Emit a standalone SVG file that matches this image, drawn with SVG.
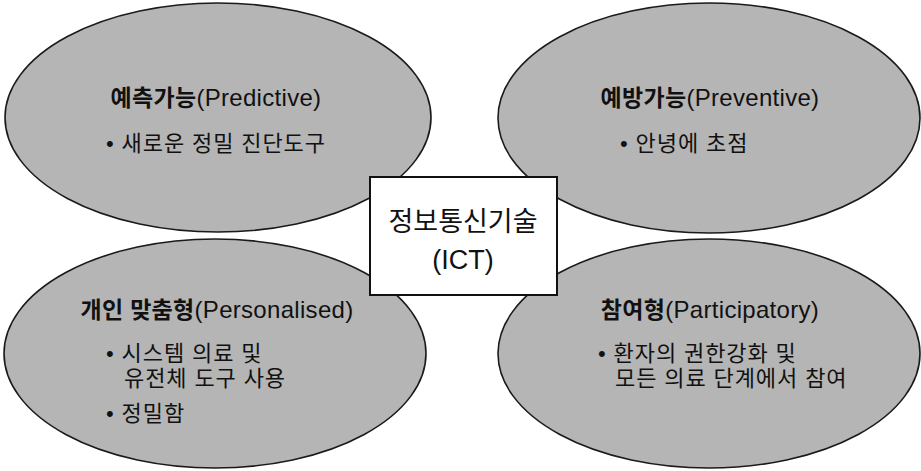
<svg xmlns="http://www.w3.org/2000/svg" width="921" height="471" viewBox="0 0 921 471">
  <style>
    .oval { fill: #b5b5b5; stroke: #1a1a1a; stroke-width: 1.6; }
    .hub { fill: #ffffff; stroke: #111111; stroke-width: 2; }
    text { font-family: "Liberation Sans", "Noto Sans CJK KR", sans-serif; fill: #111111; }
    .title { font-size: 24px; text-anchor: middle; letter-spacing: 0.3px; }
    .ko { font-weight: bold; font-size: 23px; }
    .item { font-size: 22px; letter-spacing: 0.9px; }
    .hubtext { font-size: 27px; text-anchor: middle; }
  </style>
  <rect width="921" height="471" fill="#ffffff"/>

  <!-- predictive -->
  <g id="predictive">
    <ellipse class="oval" cx="218" cy="117.5" rx="213" ry="114.5"/>
    <text class="title" x="216" y="106"><tspan class="ko">예측가능</tspan>(Predictive)</text>
    <text class="item" x="106" y="151">• 새로운 정밀 진단도구</text>
  </g>

  <!-- preventive -->
  <g id="preventive">
    <ellipse class="oval" cx="709" cy="118" rx="211" ry="115"/>
    <text class="title" x="710" y="106"><tspan class="ko">예방가능</tspan>(Preventive)</text>
    <text class="item" x="620" y="151">• 안녕에 초점</text>
  </g>

  <!-- personalised -->
  <g id="personalised">
    <ellipse class="oval" cx="215" cy="353.5" rx="211" ry="114.5"/>
    <text class="title" x="217" y="318"><tspan class="ko">개인 맞춤형</tspan>(Personalised)</text>
    <text class="item" x="106" y="361">• 시스템 의료 및</text>
    <text class="item" x="124" y="386">유전체 도구 사용</text>
    <text class="item" x="106" y="421">• 정밀함</text>
  </g>

  <!-- participatory -->
  <g id="participatory">
    <ellipse class="oval" cx="709" cy="353.5" rx="211" ry="114.5"/>
    <text class="title" x="710" y="318"><tspan class="ko">참여형</tspan>(Participatory)</text>
    <text class="item" x="598" y="361">• 환자의 권한강화 및</text>
    <text class="item" x="615" y="386">모든 의료 단계에서 참여</text>
  </g>

  <!-- central hub -->
  <g id="ict">
    <rect class="hub" x="370" y="177" width="187" height="118"/>
    <text class="hubtext" x="463" y="231">정보통신기술</text>
    <text class="hubtext" x="463" y="269">(ICT)</text>
  </g>
</svg>
